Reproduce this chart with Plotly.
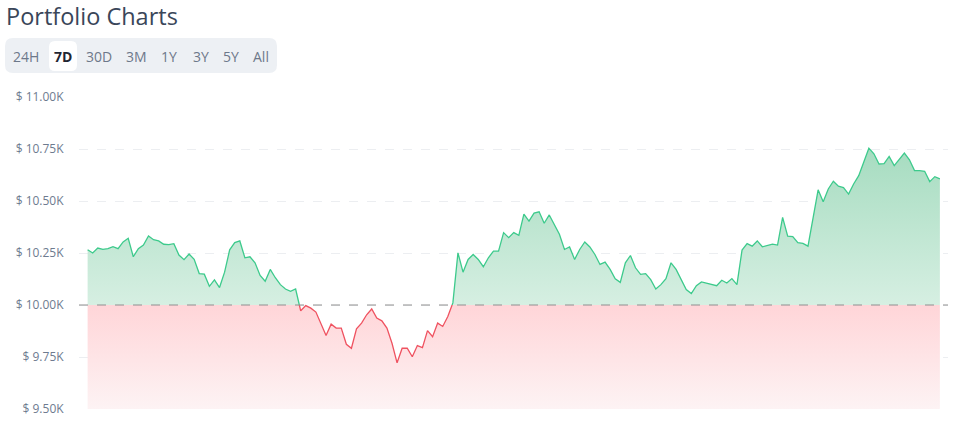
import numpy as np
import plotly.graph_objects as go

# 7 days of hourly portfolio values (USD)
hours = list(range(169))
values = [
    10266, 10250, 10274, 10267, 10271, 10280, 10271, 10303, 10321, 10232,
    10271, 10288, 10332, 10314, 10308, 10292, 10290, 10295, 10240, 10218,
    10245, 10220, 10151, 10148, 10090, 10121, 10084, 10158, 10265, 10300,
    10308, 10227, 10232, 10203, 10142, 10114, 10171, 10131, 10098, 10077,
    10066, 10077, 9972, 9997, 9985, 9966, 9905, 9853, 9908, 9889,
    9889, 9811, 9792, 9885, 9913, 9953, 9981, 9937, 9924, 9889,
    9816, 9722, 9792, 9792, 9751, 9805, 9795, 9877, 9848, 9913,
    9897, 9945, 10010, 10251, 10158, 10219, 10243, 10219, 10184, 10227,
    10259, 10259, 10348, 10324, 10348, 10335, 10437, 10403, 10442, 10448,
    10393, 10433, 10388, 10340, 10267, 10279, 10219, 10267, 10303, 10279,
    10243, 10195, 10206, 10171, 10126, 10109, 10203, 10238, 10179, 10147,
    10151, 10122, 10077, 10098, 10126, 10203, 10171, 10119, 10074, 10055,
    10093, 10111, 10106, 10098, 10093, 10119, 10106, 10127, 10098, 10264,
    10295, 10283, 10308, 10280, 10287, 10293, 10288, 10421, 10331, 10329,
    10300, 10296, 10283, 10413, 10554, 10496, 10558, 10595, 10571, 10564,
    10533, 10582, 10622, 10687, 10754, 10727, 10678, 10680, 10714, 10670,
    10699, 10730, 10698, 10646, 10646, 10643, 10593, 10617, 10606,
]
base = 10000
y_min, y_max = 9500, 11000
tick_vals = [9500, 9750, 10000, 10250, 10500, 10750, 11000]
tick_text = ["$ 9.50K", "$ 9.75K", "$ 10.00K", "$ 10.25K", "$ 10.50K", "$ 10.75K", "$ 11.00K"]
periods = ["24H", "7D", "30D", "3M", "1Y", "3Y", "5Y", "All"]
selected = "7D"

W, H = 957, 430
L, R, T, B = 79, 9, 96, 20
PW, PH = W - L - R, H - T - B


def px(x):
    return (x - L) / PW


def py(y):
    return (H - B - y) / PH


def rounded_rect(x0, y0, x1, y1, r):
    pts = [
        ("M", [(x0 + r, y0)]), ("L", [(x1 - r, y0)]), ("Q", [(x1, y0), (x1, y0 + r)]),
        ("L", [(x1, y1 - r)]), ("Q", [(x1, y1), (x1 - r, y1)]), ("L", [(x0 + r, y1)]),
        ("Q", [(x0, y1), (x0, y1 - r)]), ("L", [(x0, y0 + r)]), ("Q", [(x0, y0), (x0 + r, y0)]),
    ]
    s = ""
    for cmd, p in pts:
        s += cmd + " " + " ".join(f"{px(a):.5f},{py(b):.5f}" for a, b in p) + " "
    return s + "Z"


# split the series where it crosses the baseline so the line can change colour there
xs, ys = [hours[0]], [values[0]]
for i in range(1, len(values)):
    v0, v1 = values[i - 1], values[i]
    if (v0 - base) * (v1 - base) < 0:
        xs.append(hours[i - 1] + (base - v0) / (v1 - v0) * (hours[i] - hours[i - 1]))
        ys.append(base)
    xs.append(hours[i])
    ys.append(v1)
ys = np.array(ys, dtype=float)
up = np.maximum(ys, base).tolist()
down = np.minimum(ys, base).tolist()
line_up = [v if v >= base else None for v in ys]
line_down = [v if v <= base else None for v in ys]

green = "#3dca8c"
red = "#ef5260"

fig = go.Figure()
fig.add_trace(go.Scatter(x=xs, y=[base] * len(xs), mode="lines", line=dict(width=0), hoverinfo="skip"))
fig.add_trace(go.Scatter(
    x=xs, y=up, mode="lines", line=dict(width=0), fill="tonexty", hoverinfo="skip",
    fillgradient=dict(type="vertical", start=base, stop=max(values),
                      colorscale=[[0, "rgb(214,239,226)"], [1, "rgb(166,220,192)"]]),
))
fig.add_trace(go.Scatter(x=xs, y=[y_min] * len(xs), mode="lines", line=dict(width=0), hoverinfo="skip"))
fig.add_trace(go.Scatter(
    x=xs, y=down, mode="lines", line=dict(width=0), fill="tonexty", hoverinfo="skip",
    fillgradient=dict(type="vertical", start=y_min, stop=base,
                      colorscale=[[0, "rgb(253,243,244)"], [1, "rgb(255,213,216)"]]),
))
fig.add_trace(go.Scatter(x=xs, y=line_up, mode="lines", line=dict(color=green, width=1.3)))
fig.add_trace(go.Scatter(x=xs, y=line_down, mode="lines", line=dict(color=red, width=1.3)))

shapes = [
    dict(type="line", xref="paper", yref="y", x0=0, x1=1, y0=base, y1=base,
         line=dict(color="#8f8f8f", width=1.2, dash="dash")),
    dict(type="path", xref="paper", yref="paper", path=rounded_rect(5, 38, 277, 73, 8),
         fillcolor="#edf0f4", line=dict(width=0), layer="above"),
    dict(type="path", xref="paper", yref="paper", path=rounded_rect(49, 41, 77, 71, 6),
         fillcolor="#ffffff", line=dict(width=0), layer="above"),
]

centers = [26, 63, 99, 136, 169, 201, 231, 261]
annotations = [dict(
    x=px(4), y=py(15.5), xref="paper", yref="paper", xanchor="left", yanchor="middle",
    text="Portfolio Charts", showarrow=False,
    font=dict(family="Open Sans", size=23.5, color="#3a4659"),
)]
for label, cx in zip(periods, centers):
    sel = label == selected
    annotations.append(dict(
        x=px(cx), y=py(56.5), xref="paper", yref="paper", xanchor="center", yanchor="middle",
        text=f"<b>{label}</b>" if sel else label, showarrow=False,
        font=dict(family="Open Sans", size=14, color="#1f2633" if sel else "#6d788a"),
    ))

# pad the axis by a hair so the top and bottom grid lines are drawn inside the plot
pad = (y_max - y_min) / (PH - 2)
fig.update_layout(
    width=W, height=H,
    margin=dict(l=L, r=R, t=T, b=B),
    paper_bgcolor="white", plot_bgcolor="white",
    showlegend=False,
    shapes=shapes,
    annotations=annotations,
    xaxis=dict(range=[-1.7, 169.6], visible=False, fixedrange=True),
    yaxis=dict(
        range=[y_min - pad, y_max + pad], tickvals=tick_vals, ticktext=tick_text,
        showgrid=True, gridcolor="#eceef1", griddash="dash", gridwidth=1,
        zeroline=False, showline=False,
        ticks="outside", ticklen=12, tickcolor="rgba(0,0,0,0)",
        tickfont=dict(family="Open Sans", size=12, color="#6e7b8f"),
        fixedrange=True,
    ),
)

# page body has a default 8px margin; remove it so the figure sits at the window origin
fig.write_html("out.html", config={"displayModeBar": False},
               post_script="document.body.style.margin='0';")
